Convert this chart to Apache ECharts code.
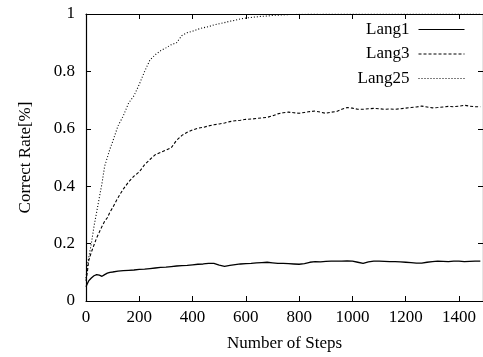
<!DOCTYPE html>
<html>
<head>
<meta charset="utf-8">
<script src="https://cdn.jsdelivr.net/npm/echarts@6/dist/echarts.min.js"></script>
<style>
  html, body { margin: 0; padding: 0; background: #fff; }
  #chart { width: 483px; height: 357px; }
</style>
</head>
<body>
<div id="chart"></div>
<script>
const steps = [0, 5, 10, 20, 30, 40, 50, 60, 70, 80, 90, 100,
  120, 140, 160, 180, 200, 220, 240, 260, 280, 300,
  320, 340, 360, 380, 400, 420, 440, 460, 480, 500,
  520, 540, 560, 580, 600, 620, 640, 660, 680, 700,
  720, 740, 760, 780, 800, 820, 840, 860, 880, 900,
  920, 940, 960, 980, 1000, 1020, 1040, 1060, 1080, 1100,
  1120, 1140, 1160, 1180, 1200, 1220, 1240, 1260, 1280, 1300,
  1320, 1340, 1360, 1380, 1400, 1420, 1440, 1460, 1480];

const lang1 = [0.05, 0.06, 0.07, 0.08, 0.088, 0.092, 0.09, 0.086, 0.092, 0.097, 0.1, 0.101,
  0.104, 0.106, 0.107, 0.108, 0.11, 0.111, 0.113, 0.115, 0.117, 0.118,
  0.12, 0.122, 0.123, 0.124, 0.126, 0.128, 0.129, 0.131, 0.131, 0.125,
  0.121, 0.124, 0.127, 0.129, 0.13, 0.131, 0.133, 0.134, 0.135, 0.133,
  0.131, 0.131, 0.13, 0.129, 0.128, 0.13, 0.135, 0.137, 0.136, 0.138,
  0.139, 0.139, 0.139, 0.14, 0.139, 0.135, 0.131, 0.136, 0.139, 0.139,
  0.138, 0.137, 0.137, 0.136, 0.135, 0.134, 0.132, 0.132, 0.135, 0.137,
  0.139, 0.138, 0.137, 0.139, 0.139, 0.137, 0.138, 0.139, 0.139];

const lang3 = [0.07, 0.1, 0.14, 0.17, 0.195, 0.22, 0.24, 0.26, 0.278, 0.29, 0.31, 0.325,
  0.36, 0.39, 0.415, 0.435, 0.45, 0.475, 0.493, 0.51, 0.518, 0.526,
  0.534, 0.56, 0.577, 0.588, 0.596, 0.602, 0.605, 0.61, 0.614, 0.617,
  0.62, 0.625, 0.628, 0.63, 0.633, 0.634, 0.636, 0.638, 0.64, 0.645,
  0.652, 0.656, 0.658, 0.656, 0.654, 0.657, 0.66, 0.662, 0.658, 0.654,
  0.658, 0.66, 0.668, 0.674, 0.672, 0.668, 0.668, 0.67, 0.671, 0.67,
  0.668, 0.669, 0.668, 0.67, 0.672, 0.674, 0.676, 0.679, 0.676, 0.673,
  0.674, 0.676, 0.678, 0.677, 0.679, 0.682, 0.679, 0.677, 0.677];

const lang25 = [0.08, 0.12, 0.15, 0.2, 0.26, 0.31, 0.36, 0.41, 0.47, 0.5, 0.53, 0.555,
  0.61, 0.645, 0.69, 0.715, 0.755, 0.8, 0.84, 0.858, 0.872, 0.882,
  0.893, 0.9, 0.925, 0.935, 0.94, 0.947, 0.952, 0.956, 0.962, 0.966,
  0.97, 0.975, 0.978, 0.983, 0.986, 0.988, 0.99, 0.992, 0.993, 0.995,
  0.996, 0.997, 0.998, 0.998, 0.999, 0.999, 1, 1, 0.999, 1,
  1, 1, 1, 1, 1, 1, 1, 1, 1, 1,
  1, 1, 1, 1, 1, 1, 1, 1, 1, 1,
  1, 1, 1, 1, 1, 1, 1, 1, 1];

const seriesNames = ['Lang1', 'Lang3', 'Lang25'];
const dashes = ['solid', [3, 2], [1, 2]];

const font = 'Liberation Serif';
const txt = { fontFamily: font, fontSize: 17, color: '#000' };
const line = { show: true, onZero: false, lineStyle: { color: '#000', width: 1.2 } };
const tick = { show: true, inside: true, length: 5, lineStyle: { color: '#000', width: 1 } };

function pairs(vals) {
  return steps.map((s, i) => [s, vals[i]]);
}

const chart = echarts.init(document.getElementById('chart'));
chart.setOption({
  animation: false,
  grid: { left: 86, top: 14, right: 0, bottom: 54 },
  legend: {
    orient: 'vertical',
    align: 'right',
    right: 18,
    top: 21,
    padding: 0,
    itemWidth: 46,
    itemHeight: 10,
    itemGap: 7.5,
    itemStyle: { opacity: 0 },
    lineStyle: { width: 1 },
    textStyle: { fontFamily: font, fontSize: 17, color: '#000', padding: [0, 4, 0, 0] },
    data: seriesNames
  },
  xAxis: [{
    type: 'value', min: 0, max: 1490, interval: 200,
    name: 'Number of Steps', nameLocation: 'middle', nameGap: 34, nameTextStyle: txt,
    axisLine: line, axisTick: tick, splitLine: { show: false },
    axisLabel: Object.assign({ margin: 8, showMaxLabel: false, formatter: v => String(v) }, txt)
  }, {
    type: 'value', position: 'top', min: 0, max: 1490, interval: 200,
    axisLine: line, axisTick: tick,
    axisLabel: { show: false }, splitLine: { show: false }
  }],
  yAxis: [{
    type: 'value', min: 0, max: 1, interval: 0.2,
    name: 'Correct Rate[%]', nameLocation: 'middle', nameGap: 52, nameTextStyle: txt,
    axisLine: line, axisTick: tick, splitLine: { show: false },
    axisLabel: Object.assign({ margin: 11 }, txt)
  }, {
    type: 'value', position: 'right', min: 0, max: 1, interval: 0.2,
    axisLine: line, axisTick: tick,
    axisLabel: { show: false }, splitLine: { show: false }
  }],
  series: [lang1, lang3, lang25].map((vals, i) => ({
    name: seriesNames[i],
    type: 'line',
    data: pairs(vals),
    symbol: 'none',
    clip: true,
    lineStyle: { color: '#000', width: i === 0 ? 1.3 : 1.1, type: dashes[i] },
    itemStyle: { color: '#000' }
  }))
});
</script>
</body>
</html>
